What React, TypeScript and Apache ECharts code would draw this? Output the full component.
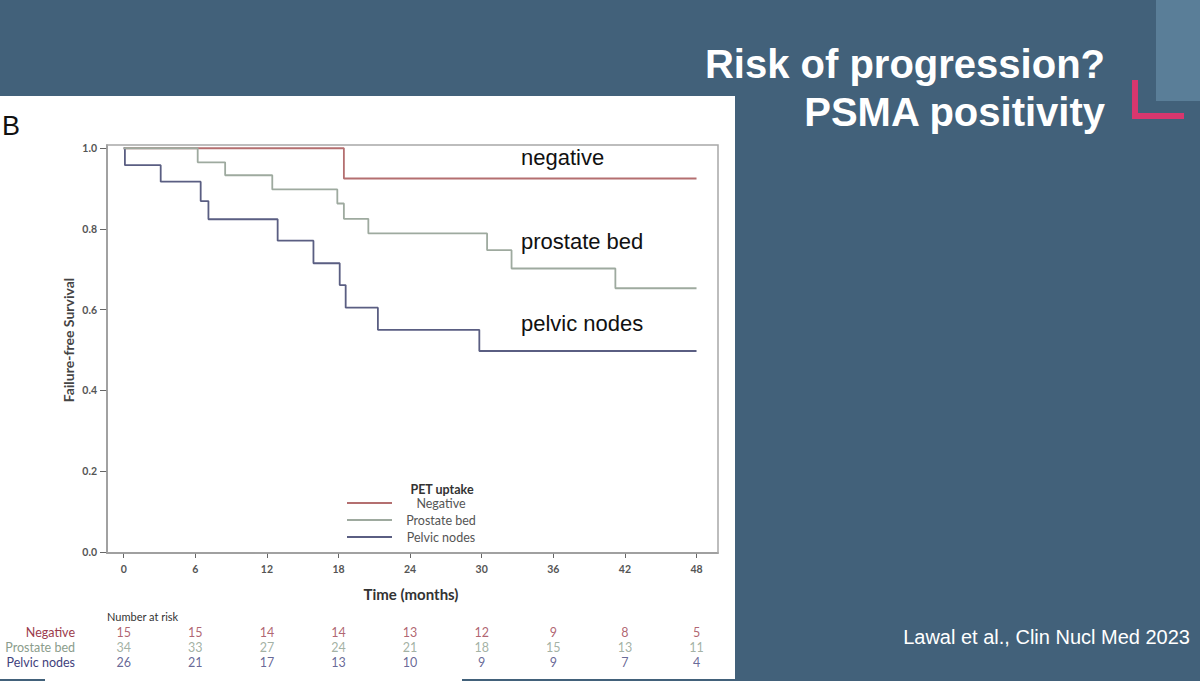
import React, { useEffect, useRef } from 'react';
import * as echarts from 'echarts';

const xTicks = [0, 6, 12, 18, 24, 30, 36, 42, 48];
const yTicks = [0, 0.2, 0.4, 0.6, 0.8, 1.0];
const groups = ['Negative', 'Prostate bed', 'Pelvic nodes'];

const negTime = [0, 18.45, 48];
const negSurv = [1, 0.925, 0.925];

const bedTime = [0, 6.2, 8.5, 12.45, 17.9, 18.45, 20.5, 30.45, 32.5, 41.2, 48];
const bedSurv = [1, 0.965, 0.933, 0.898, 0.863, 0.825, 0.789, 0.7475, 0.702, 0.653, 0.653];

const pelTime = [0, 0.1, 3.1, 6.45, 7.1, 12.9, 15.9, 18.1, 18.6, 21.3, 29.8, 48];
const pelSurv = [1, 0.958, 0.917, 0.869, 0.824, 0.771, 0.715, 0.661, 0.605, 0.55, 0.4975, 0.4975];

const negRisk = [15, 15, 14, 14, 13, 12, 9, 8, 5];
const bedRisk = [34, 33, 27, 24, 21, 18, 15, 13, 11];
const pelRisk = [26, 21, 17, 13, 10, 9, 9, 7, 4];

const curveColors = ['#b46f70', '#9eaa9f', '#5a5e82'];
const riskColors = ['#9c3c4c', '#8b9d8c', '#3f427c'];

const FONT = 'Lato, "Open Sans", sans-serif';
const ARIAL = '"Liberation Sans", Arial, sans-serif';

export default function App() {
  const ref = useRef<HTMLDivElement>(null);

  useEffect(() => {
    document.body.style.margin = '0';
    const chart = echarts.init(ref.current!, null, { renderer: 'svg' });

    const toPairs = (t: number[], s: number[]) => t.map((v, i) => [v, s[i]]);
    const curve = (name: string, t: number[], s: number[], color: string) => ({
      name,
      type: 'line',
      step: 'end',
      xAxisIndex: 0,
      yAxisIndex: 0,
      data: toPairs(t, s),
      showSymbol: false,
      symbol: 'none',
      color,
      lineStyle: { color, width: 1.8 },
      silent: true,
      z: 3,
    });
    const risk = (idx: number, vals: number[], color: string) => ({
      type: 'scatter',
      xAxisIndex: 1,
      yAxisIndex: 1,
      symbolSize: 1,
      itemStyle: { color: 'transparent' },
      data: vals.map((n, i) => [xTicks[i], idx, n]),
      label: {
        show: true,
        position: 'inside',
        formatter: (p: any) => String(p.value[2]),
        color,
        fontSize: 12.5,
        fontFamily: FONT,
      },
      silent: true,
    });

    const option: any = {
      animation: false,
      backgroundColor: '#42617a',
      grid: [
        { left: 107, top: 145, width: 611, height: 408, show: true, borderColor: '#a8a8a8', borderWidth: 1.5, backgroundColor: 'transparent', z: 2 },
        { left: 107, top: 624.5, width: 611, height: 45, show: false },
      ],
      xAxis: [
        {
          type: 'value',
          gridIndex: 0,
          min: -1.4,
          max: 49.8,
          splitLine: { show: false },
          axisLine: { show: true, onZero: false, lineStyle: { color: '#666', width: 1.5 } },
          axisTick: { show: true, customValues: xTicks, length: 5, lineStyle: { color: '#666' } },
          axisLabel: { customValues: xTicks, margin: 10, fontSize: 10.5, fontWeight: 'bold', color: '#555', fontFamily: FONT },
        },
        { type: 'value', gridIndex: 1, min: -1.4, max: 49.8, show: false },
      ],
      yAxis: [
        {
          type: 'value',
          gridIndex: 0,
          min: -0.003,
          max: 1.008,
          splitLine: { show: false },
          axisLine: { show: true, onZero: false, lineStyle: { color: '#666', width: 1.5 } },
          axisTick: { show: true, customValues: yTicks, length: 7, lineStyle: { color: '#666' } },
          axisLabel: {
            customValues: yTicks,
            margin: 10,
            fontSize: 10.5,
            fontWeight: 'bold',
            color: '#555',
            fontFamily: FONT,
            formatter: (v: number) => v.toFixed(1),
          },
        },
        {
          type: 'category',
          gridIndex: 1,
          data: groups,
          inverse: true,
          axisLine: { show: false },
          axisTick: { show: false },
          splitLine: { show: false },
          axisLabel: {
            interval: 0,
            margin: 32,
            fontSize: 12.5,
            fontFamily: FONT,
            color: (v: any) => riskColors[groups.indexOf(v)] || '#333',
          },
        },
      ],
      legend: {
        data: groups,
        orient: 'vertical',
        left: 347,
        top: 496,
        padding: 0,
        itemWidth: 45,
        itemHeight: 2,
        itemGap: 3,
        icon: 'rect',
        selectedMode: false,
        formatter: '{t|{name}}',
        textStyle: {
          fontSize: 12.5,
          color: '#555',
          fontFamily: FONT,
          lineHeight: 14,
          rich: { t: { width: 88, align: 'center', fontSize: 12.5, color: '#555', fontFamily: FONT, lineHeight: 14 } },
        },
      },
      series: [
        curve(groups[0], negTime, negSurv, curveColors[0]),
        curve(groups[2], pelTime, pelSurv, curveColors[2]),
        curve(groups[1], bedTime, bedSurv, curveColors[1]),
        risk(0, negRisk, riskColors[0]),
        risk(1, bedRisk, riskColors[1]),
        risk(2, pelRisk, riskColors[2]),
      ],
      graphic: [
        { type: 'rect', z: -10, silent: true, shape: { x: 0, y: 96, width: 735, height: 585 }, style: { fill: '#ffffff' } },
        { type: 'rect', z: -9, silent: true, shape: { x: 0, y: 679, width: 45, height: 2 }, style: { fill: '#42617a' } },
        { type: 'rect', z: -9, silent: true, shape: { x: 462, y: 679, width: 273, height: 2 }, style: { fill: '#42617a' } },
        { type: 'rect', z: -10, silent: true, shape: { x: 1156, y: 0, width: 44, height: 101 }, style: { fill: '#5a7e98' } },
        { type: 'rect', z: -9, silent: true, shape: { x: 1132, y: 80, width: 6, height: 39 }, style: { fill: '#d8376e' } },
        { type: 'rect', z: -9, silent: true, shape: { x: 1132, y: 113, width: 52, height: 6 }, style: { fill: '#d8376e' } },
        {
          type: 'text', z: 10, silent: true, x: 1105, y: 64,
          style: { text: 'Risk of progression?', fill: '#ffffff', font: `bold 40px ${ARIAL}`, textAlign: 'right', textVerticalAlign: 'middle' },
        },
        {
          type: 'text', z: 10, silent: true, x: 1105, y: 112,
          style: { text: 'PSMA positivity', fill: '#ffffff', font: `bold 40px ${ARIAL}`, textAlign: 'right', textVerticalAlign: 'middle' },
        },
        {
          type: 'text', z: 10, silent: true, x: 1190, y: 637,
          style: { text: 'Lawal et al., Clin Nucl Med 2023', fill: '#ffffff', font: `20px ${ARIAL}`, textAlign: 'right', textVerticalAlign: 'middle' },
        },
        {
          type: 'text', z: 10, silent: true, x: 2, y: 126,
          style: { text: 'B', fill: '#111111', font: `27px ${ARIAL}`, textAlign: 'left', textVerticalAlign: 'middle' },
        },
        {
          type: 'text', z: 10, silent: true, x: 521, y: 157,
          style: { text: 'negative', fill: '#111111', font: `22px ${ARIAL}`, textAlign: 'left', textVerticalAlign: 'middle' },
        },
        {
          type: 'text', z: 10, silent: true, x: 521, y: 241,
          style: { text: 'prostate bed', fill: '#111111', font: `22px ${ARIAL}`, textAlign: 'left', textVerticalAlign: 'middle' },
        },
        {
          type: 'text', z: 10, silent: true, x: 521, y: 323,
          style: { text: 'pelvic nodes', fill: '#111111', font: `22px ${ARIAL}`, textAlign: 'left', textVerticalAlign: 'middle' },
        },
        {
          type: 'text', z: 10, silent: true, x: 442, y: 489,
          style: { text: 'PET uptake', fill: '#333333', font: `bold 12.5px ${FONT}`, textAlign: 'center', textVerticalAlign: 'middle' },
        },
        {
          type: 'text', z: 10, silent: true, x: 68, y: 340, rotation: Math.PI / 2,
          style: { text: 'Failure-free Survival', fill: '#444444', font: `bold 14px ${FONT}`, textAlign: 'center', textVerticalAlign: 'middle' },
        },
        {
          type: 'text', z: 10, silent: true, x: 411, y: 594,
          style: { text: 'Time (months)', fill: '#333333', font: `bold 15px ${FONT}`, textAlign: 'center', textVerticalAlign: 'middle' },
        },
        {
          type: 'text', z: 10, silent: true, x: 107, y: 616,
          style: { text: 'Number at risk', fill: '#333333', font: `11px ${FONT}`, textAlign: 'left', textVerticalAlign: 'middle' },
        },
      ],
    };

    chart.setOption(option);
    return () => chart.dispose();
  }, []);

  return <div ref={ref} style={{ width: 1200, height: 681 }} />;
}
